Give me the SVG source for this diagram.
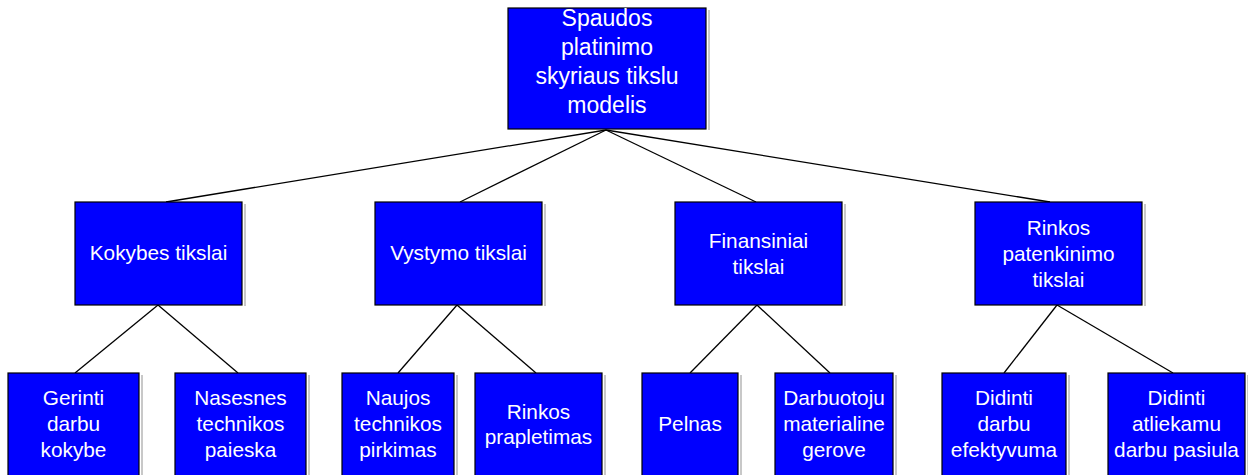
<svg xmlns="http://www.w3.org/2000/svg" width="1248" height="475" viewBox="0 0 1248 475">
<style>
.box{fill:#0000ff;stroke:#000;stroke-width:1.2}
.sh{fill:#c8c8c8}
.t{font-family:"Liberation Sans",Arial,sans-serif;fill:#fff;text-anchor:middle;font-size:20.8px}
.tr{font-size:23px}
.c{stroke:#000;stroke-width:1.3;fill:none}
</style>
<rect width="1248" height="475" fill="#fff"/>
<g id="connectors">
<line class="c" x1="606" y1="130" x2="166" y2="202"/>
<line class="c" x1="606" y1="130" x2="460" y2="202"/>
<line class="c" x1="606" y1="130" x2="756" y2="202"/>
<line class="c" x1="606" y1="130" x2="1050" y2="202"/>
<line class="c" x1="158" y1="305" x2="75" y2="373"/>
<line class="c" x1="158" y1="305" x2="238" y2="373"/>
<line class="c" x1="457" y1="305" x2="398" y2="373"/>
<line class="c" x1="457" y1="305" x2="536" y2="373"/>
<line class="c" x1="757" y1="305" x2="690" y2="373"/>
<line class="c" x1="757" y1="305" x2="830" y2="373"/>
<line class="c" x1="1057" y1="305" x2="1004" y2="373"/>
<line class="c" x1="1057" y1="305" x2="1173" y2="373"/>
</g>
<g id="root">
<rect class="sh" x="708" y="10" width="2" height="120"/>
<rect class="box" x="508" y="8" width="198" height="121"/>
<text class="t tr" x="607" y="26">Spaudos</text>
<text class="t tr" x="607" y="55">platinimo</text>
<text class="t tr" x="607" y="84">skyriaus tikslu</text>
<text class="t tr" x="607" y="113">modelis</text>
</g>
<g id="kokybes">
<rect class="sh" x="244" y="204" width="2" height="102"/>
<rect class="box" x="75" y="202" width="167" height="103"/>
<text class="t" x="158.5" y="260">Kokybes tikslai</text>
</g>
<g id="vystymo">
<rect class="sh" x="544" y="204" width="2" height="102"/>
<rect class="box" x="375" y="202" width="167" height="103"/>
<text class="t" x="458.5" y="260">Vystymo tikslai</text>
</g>
<g id="finansiniai">
<rect class="sh" x="844" y="204" width="2" height="102"/>
<rect class="box" x="675" y="202" width="167" height="103"/>
<text class="t" x="758.5" y="248">Finansiniai</text>
<text class="t" x="758.5" y="274">tikslai</text>
</g>
<g id="rinkos">
<rect class="sh" x="1144" y="204" width="2" height="102"/>
<rect class="box" x="975" y="202" width="167" height="103"/>
<text class="t" x="1058.5" y="235">Rinkos</text>
<text class="t" x="1058.5" y="261">patenkinimo</text>
<text class="t" x="1058.5" y="287">tikslai</text>
</g>
<g id="gerinti">
<rect class="sh" x="141" y="375" width="2" height="110"/>
<rect class="box" x="8" y="373" width="131" height="110"/>
<text class="t" x="73.5" y="405">Gerinti</text>
<text class="t" x="73.5" y="431">darbu</text>
<text class="t" x="73.5" y="457">kokybe</text>
</g>
<g id="nasesnes">
<rect class="sh" x="308" y="375" width="2" height="110"/>
<rect class="box" x="175" y="373" width="131" height="110"/>
<text class="t" x="240.5" y="405">Nasesnes</text>
<text class="t" x="240.5" y="431">technikos</text>
<text class="t" x="240.5" y="457">paieska</text>
</g>
<g id="naujos">
<rect class="sh" x="456" y="375" width="2" height="110"/>
<rect class="box" x="342" y="373" width="112" height="110"/>
<text class="t" x="398" y="405">Naujos</text>
<text class="t" x="398" y="431">technikos</text>
<text class="t" x="398" y="457">pirkimas</text>
</g>
<g id="rinkos-pr">
<rect class="sh" x="604" y="375" width="2" height="110"/>
<rect class="box" x="475" y="373" width="127" height="110"/>
<text class="t" x="538.5" y="419">Rinkos</text>
<text class="t" x="538.5" y="444">prapletimas</text>
</g>
<g id="pelnas">
<rect class="sh" x="740" y="375" width="2" height="110"/>
<rect class="box" x="642" y="373" width="96" height="110"/>
<text class="t" x="690" y="431">Pelnas</text>
</g>
<g id="darbuotoju">
<rect class="sh" x="895" y="375" width="2" height="110"/>
<rect class="box" x="775" y="373" width="118" height="110"/>
<text class="t" x="834" y="405">Darbuotoju</text>
<text class="t" x="834" y="431">materialine</text>
<text class="t" x="834" y="457">gerove</text>
</g>
<g id="didinti1">
<rect class="sh" x="1068" y="375" width="2" height="110"/>
<rect class="box" x="942" y="373" width="124" height="110"/>
<text class="t" x="1004" y="405">Didinti</text>
<text class="t" x="1004" y="431">darbu</text>
<text class="t" x="1004" y="457">efektyvuma</text>
</g>
<g id="didinti2">
<rect class="sh" x="1247" y="375" width="1" height="110"/>
<rect class="box" x="1108" y="373" width="137" height="110"/>
<text class="t" x="1176.5" y="405">Didinti</text>
<text class="t" x="1176.5" y="431">atliekamu</text>
<text class="t" x="1176.5" y="457">darbu pasiula</text>
</g>
</svg>
